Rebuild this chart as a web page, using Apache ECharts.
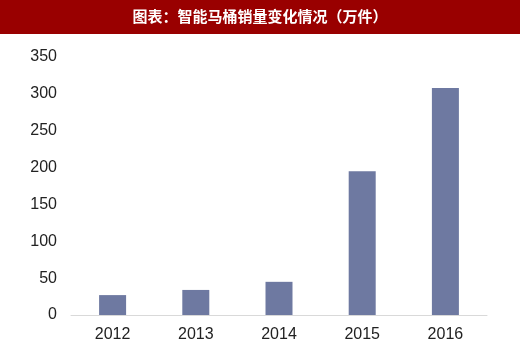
<!DOCTYPE html>
<html><head><meta charset="utf-8">
<script src="https://cdn.jsdelivr.net/npm/echarts@6/dist/echarts.min.js"></script>
<style>html,body{margin:0;padding:0;background:#fff}#c{width:520px;height:345px}</style>
</head><body><div id="c"></div>
<script>
const titleText = '图表：智能马桶销量变化情况（万件）';
const categories = ['2012', '2013', '2014', '2015', '2016'];
const salesValues = [27, 34, 45, 195, 308];
const yTicks = [0, 50, 100, 150, 200, 250, 300, 350];

const chart = echarts.init(document.getElementById('c'));
chart.setOption({
  animation: false,
  backgroundColor: '#ffffff',
  graphic: [
    { type: 'rect', left: 0, top: 0, shape: { width: 520, height: 34 }, style: { fill: '#990000' }, silent: true },
    { type: 'text', left: 'center', top: 9, style: { text: titleText, fill: '#ffffff', font: 'bold 15px "Noto Sans CJK SC", sans-serif' } }
  ],
  grid: { left: 71, right: 33, top: 57, bottom: 30, containLabel: false },
  xAxis: {
    type: 'category', data: categories,
    axisLine: { lineStyle: { color: '#d9d9d9', width: 1 } },
    axisTick: { show: false },
    axisLabel: { color: '#222', fontSize: 16, fontFamily: 'Liberation Sans, Arial, sans-serif', margin: 12 }
  },
  yAxis: {
    type: 'value', min: yTicks[0], max: yTicks[yTicks.length - 1], interval: 50,
    axisLine: { show: false }, axisTick: { show: false }, splitLine: { show: false },
    axisLabel: { color: '#222', fontSize: 16, fontFamily: 'Liberation Sans, Arial, sans-serif', margin: 14 }
  },
  series: [{
    type: 'bar', data: salesValues, barWidth: 27,
    itemStyle: { color: '#6e79a1' }
  }]
});
</script></body></html>
